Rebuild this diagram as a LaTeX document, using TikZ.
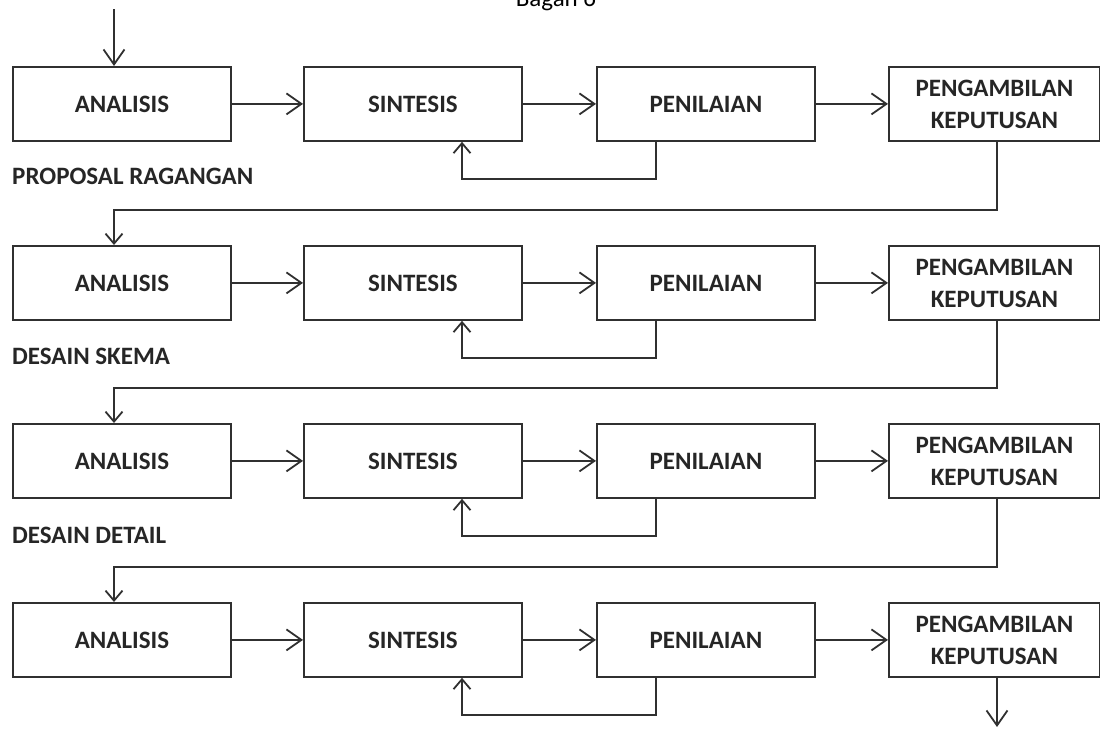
\documentclass[tikz,border=0pt]{standalone}
\usepackage{fontspec}
\setmainfont{Carlito}
\usetikzlibrary{arrows.meta}
\definecolor{linegray}{HTML}{303030}
\definecolor{textgray}{HTML}{262626}
\begin{document}
\begin{tikzpicture}[x=1pt,y=-1pt,
  stagebox/.style={draw=linegray, line width=1.8pt, minimum width=218pt,
    minimum height=74pt, inner sep=0pt, anchor=north west, align=center,
    text=textgray, font=\bfseries\fontsize{25}{32}\selectfont},
  phase/.style={anchor=west, inner sep=0pt, text=textgray,
    font=\bfseries\fontsize{25}{30}\selectfont},
  flow/.style={draw=linegray, line width=1.8pt},
  bigarrow/.style={flow, -{Straight Barb[length=15pt,width=21pt,line width=1.8pt]}},
  smallarrow/.style={flow, -{Straight Barb[length=10pt,width=17pt,line width=1.8pt]}}
]
\useasboundingbox (0,0) rectangle (1100,728);

% title, partly above the page edge
\node[anchor=base, inner sep=0pt, text=black, font=\fontsize{25}{30}\selectfont]
  (title) at (556,6) {Bagan 6};

% four rows of stages
\foreach \r/\t in {1/66,2/245,3/423,4/602} {
  \node[stagebox] (a\r) at (12,\t)  {ANALISIS};
  \node[stagebox] (s\r) at (303,\t) {SINTESIS};
  \node[stagebox] (p\r) at (596,\t) {PENILAIAN};
  \node[stagebox, minimum width=211pt] (k\r) at (888,\t) {PENGAMBILAN\\KEPUTUSAN};
  \draw[bigarrow] (a\r.east) -- (s\r.west);
  \draw[bigarrow] (s\r.east) -- (p\r.west);
  \draw[bigarrow] (p\r.east) -- (k\r.west);
  % feedback from evaluation back to synthesis
  \draw[smallarrow] ([xshift=60pt]p\r.south west) -- ++(0,37)
    -| ([xshift=159pt]s\r.south west);
}

% phase labels
\node[phase] (l1) at (12,176) {PROPOSAL RAGANGAN};
\node[phase] (l2) at (12,356) {DESAIN SKEMA};
\node[phase] (l3) at (12,535) {DESAIN DETAIL};

% links between rows
\foreach \r/\n in {1/2,2/3,3/4} {
  \draw[smallarrow] ([xshift=109pt]k\r.south west)
    |- ([xshift=102pt,yshift=35pt]a\n.north west)
    -- ([xshift=102pt]a\n.north west);
}

% entry and exit
\coordinate (entry) at (114,9);
\coordinate (exit) at (997,727);
\draw[bigarrow] (entry) -- ([xshift=102pt]a1.north west);
\draw[bigarrow] ([xshift=109pt]k4.south west) -- (exit);
\end{tikzpicture}
\end{document}
